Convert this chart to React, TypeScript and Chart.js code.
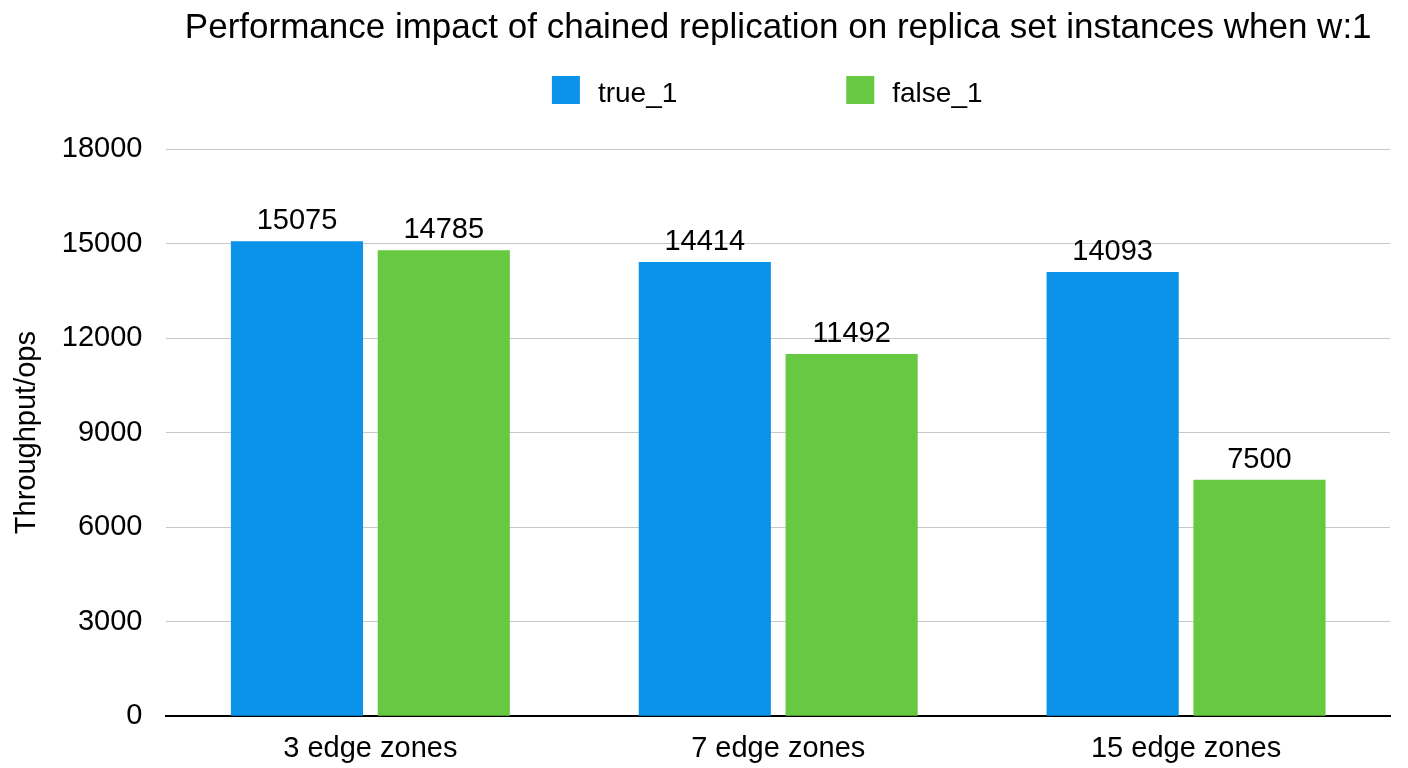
import React, { useEffect, useRef } from 'react';
import { Chart, registerables } from 'chart.js';

Chart.register(...registerables);

const chartTitle = 'Performance impact of chained replication on replica set instances when w:1';
const categories = ['3 edge zones', '7 edge zones', '15 edge zones'];
const seriesNames = ['true_1', 'false_1'];
const trueValues = [15075, 14414, 14093];
const falseValues = [14785, 11492, 7500];
const seriesColors = ['#0a93e8', '#66c941'];
const yTickValues = [0, 3000, 6000, 9000, 12000, 15000, 18000];
const yAxisTitle = 'Throughput/ops';

const FONT = '"Liberation Sans", Arial, Helvetica, sans-serif';

const valueLabelPlugin = {
  id: 'valueLabels',
  afterDatasetsDraw(chart: any) {
    const ctx = chart.ctx;
    ctx.save();
    ctx.font = `29px ${FONT}`;
    ctx.fillStyle = '#000';
    ctx.textAlign = 'center';
    ctx.textBaseline = 'alphabetic';
    chart.data.datasets.forEach((ds: any, i: number) => {
      const meta = chart.getDatasetMeta(i);
      meta.data.forEach((el: any, j: number) => {
        ctx.fillText(String(ds.data[j]), el.x, el.y - 12);
      });
    });
    ctx.restore();
  },
};

const customLegendPlugin = {
  id: 'customLegend',
  afterDraw(chart: any) {
    const ctx = chart.ctx;
    const area = chart.chartArea;
    const box = 28;
    const textGap = 18;
    const itemGap = 169;
    ctx.save();
    ctx.font = `28px ${FONT}`;
    const items = chart.data.datasets.map((ds: any) => ({
      label: ds.label,
      color: ds.backgroundColor,
      w: ctx.measureText(ds.label).width,
    }));
    let total = 0;
    items.forEach((it: any, i: number) => {
      total += box + textGap + it.w + (i < items.length - 1 ? itemGap : 0);
    });
    const center = (area.left + area.right) / 2 - 11;
    let x = center - total / 2;
    const boxTop = 76;
    items.forEach((it: any) => {
      ctx.fillStyle = it.color;
      ctx.fillRect(x, boxTop, box, box);
      ctx.fillStyle = '#000';
      ctx.textAlign = 'left';
      ctx.textBaseline = 'alphabetic';
      ctx.fillText(it.label, x + box + textGap, 102);
      x += box + textGap + it.w + itemGap;
    });
    ctx.restore();
  },
};

export default function App() {
  const canvasRef = useRef<HTMLCanvasElement | null>(null);

  useEffect(() => {
    if (!canvasRef.current) return;
    const chart = new Chart(canvasRef.current, {
      type: 'bar',
      data: {
        labels: categories,
        datasets: [
          {
            label: seriesNames[0],
            data: trueValues,
            backgroundColor: seriesColors[0],
            categoryPercentage: 0.72,
            barPercentage: 0.9,
          },
          {
            label: seriesNames[1],
            data: falseValues,
            backgroundColor: seriesColors[1],
            categoryPercentage: 0.72,
            barPercentage: 0.9,
          },
        ],
      },
      options: {
        animation: false,
        responsive: true,
        maintainAspectRatio: false,
        layout: { padding: { left: 0, right: 18, top: 0, bottom: -13 } },
        plugins: {
          legend: { display: false },
          tooltip: { enabled: false },
          title: {
            display: true,
            text: chartTitle,
            fullSize: false,
            color: '#000',
            font: { family: FONT, size: 35, weight: 'normal' },
            padding: { top: 7, bottom: 100 },
          },
        },
        scales: {
          x: {
            grid: { display: false, drawTicks: false },
            border: { display: true, color: '#000', width: 2 },
            ticks: {
              color: '#000',
              font: { family: FONT, size: 29 },
              padding: 15,
            },
          },
          y: {
            min: 0,
            max: 18000,
            afterBuildTicks: (axis: any) => {
              axis.ticks = yTickValues.map((v) => ({ value: v }));
            },
            grid: { color: '#c8c8c8', lineWidth: 1, drawTicks: false },
            border: { display: false },
            ticks: {
              color: '#000',
              font: { family: FONT, size: 29 },
              padding: 24,
              callback: (v: any) => String(v),
            },
            title: {
              display: true,
              text: yAxisTitle,
              color: '#000',
              font: { family: FONT, size: 29 },
              padding: { top: 10, bottom: -7 },
            },
          },
        },
      },
      plugins: [valueLabelPlugin, customLegendPlugin],
    });
    return () => chart.destroy();
  }, []);

  return (
    <div style={{ position: 'fixed', left: 0, top: 0, width: 1408, height: 768, background: '#fff' }}>
      <canvas ref={canvasRef} />
    </div>
  );
}
